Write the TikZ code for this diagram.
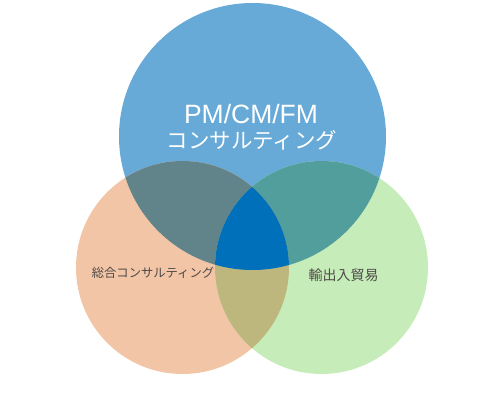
\documentclass[tikz,border=0pt]{standalone}
\usepackage{fontspec}
\setmainfont{Noto Sans CJK JP}
\newfontfamily\latinsans{Liberation Sans}
\usepackage{tikz}
\usetikzlibrary{positioning}

\definecolor{pmblue}{HTML}{67A9D7}
\definecolor{soorange}{HTML}{F2C5A6}
\definecolor{yugreen}{HTML}{C6ECBA}
\definecolor{bluesorange}{HTML}{61838A}
\definecolor{bluegreen}{HTML}{529E9C}
\definecolor{orangegreen}{HTML}{BDB77D}
\definecolor{allthree}{HTML}{0070BA}
\definecolor{labelgray}{HTML}{4E4A46}

\begin{document}
\begin{tikzpicture}[x=1pt,y=-1pt]
			\useasboundingbox (0,0) rectangle (504,417);
			\def\pm{(252.5,136.5) circle (133.5)}
			\def\so{(182.5,267.5) circle (106.5)}
			\def\yu{(321.5,267.5) circle (106.5)}

			\fill[pmblue] \pm;
			\fill[soorange] \so;
			\fill[yugreen] \yu;
			\begin{scope}
				\clip \pm;
				\fill[bluesorange] \so;
				\fill[bluegreen] \yu;
			\end{scope}
			\begin{scope}
				\clip \so;
				\fill[orangegreen] \yu;
				\clip \yu;
				\fill[allthree] \pm;
			\end{scope}

			\node[text=white,font=\latinsans\fontsize{26.5}{30}\selectfont,inner sep=0pt] (pmtitle) at (251,114.5) {PM/CM/FM};
			\node[text=white,font=\fontsize{21.5}{25}\selectfont,inner sep=0pt] (pmsub) at (252,140.5) {コンサルティング};
			\node[text=labelgray,font=\fontsize{12.3}{14}\selectfont] (sogo) at (153,273) {総合コンサルティング};
			\node[text=labelgray,font=\fontsize{14}{16}\selectfont] (yushutsu) at (343.5,275) {輸出入貿易};
		\end{tikzpicture}
\end{document}
